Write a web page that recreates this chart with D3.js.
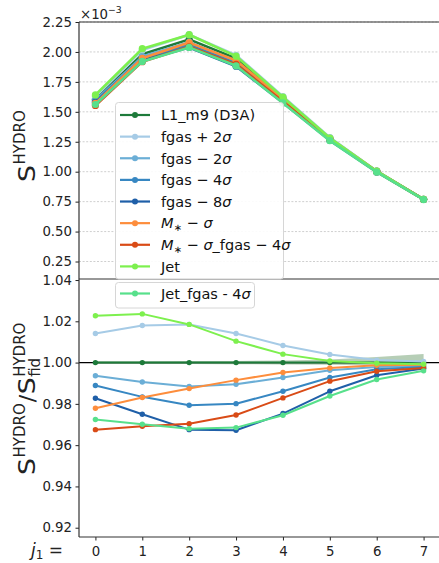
<!DOCTYPE html>
<html>
<head>
<meta charset="utf-8">
<script src="https://cdn.jsdelivr.net/npm/d3@7"></script>
<style>
  html, body { margin: 0; padding: 0; background: #fff; }
  svg { display: block; font-family: "DejaVu Sans", sans-serif; }
</style>
</head>
<body>
<svg id="chart" width="439" height="563"></svg>
<script>
// Scale index j1 on the x axis
const j1 = [0, 1, 2, 3, 4, 5, 6, 7];

// Scattering coefficients S^HYDRO (units of 1e-3)
const topFid       = [1.605, 1.980, 2.105, 1.945, 1.615, 1.280, 1.004, 0.770];
const topFgasP2    = [1.628, 2.016, 2.144, 1.972, 1.628, 1.285, 1.005, 0.770];
const topFgasM2    = [1.595, 1.961, 2.081, 1.925, 1.603, 1.275, 1.002, 0.769];
const topFgasM4    = [1.587, 1.947, 2.061, 1.906, 1.593, 1.271, 1.001, 0.768];
const topFgasM8    = [1.577, 1.931, 2.037, 1.881, 1.575, 1.262, 0.998, 0.768];
const topMstar     = [1.570, 1.947, 2.078, 1.928, 1.607, 1.277, 1.003, 0.769];
const topMstarFgas = [1.553, 1.919, 2.043, 1.896, 1.587, 1.268, 1.000, 0.768];
const topJet       = [1.641, 2.027, 2.144, 1.965, 1.622, 1.281, 1.004, 0.769];
const topJetFgas   = [1.561, 1.921, 2.038, 1.884, 1.574, 1.259, 0.996, 0.767];

// Ratio to the fiducial run
const ratioFid       = [1, 1, 1, 1, 1, 1, 1, 1];
const ratioFgasP2    = [1.0141, 1.0180, 1.0185, 1.0141, 1.0083, 1.0039, 1.0012, 1.0005];
const ratioFgasM2    = [0.9936, 0.9906, 0.9884, 0.9895, 0.9928, 0.9963, 0.9979, 0.9984];
const ratioFgasM4    = [0.9889, 0.9834, 0.9793, 0.9801, 0.9861, 0.9928, 0.9968, 0.9979];
const ratioFgasM8    = [0.9827, 0.9750, 0.9675, 0.9672, 0.9753, 0.9861, 0.9939, 0.9971];
const ratioMstar     = [0.9779, 0.9831, 0.9874, 0.9915, 0.9952, 0.9974, 0.9987, 0.9990];
const ratioMstarFgas = [0.9675, 0.9691, 0.9704, 0.9746, 0.9829, 0.9910, 0.9958, 0.9974];
const ratioJet       = [1.0227, 1.0236, 1.0185, 1.0104, 1.0041, 1.0008, 0.9997, 0.9992];
const ratioJetFgas   = [0.9724, 0.9701, 0.9680, 0.9685, 0.9745, 0.9838, 0.9918, 0.9960];

// Scatter band of the fiducial ratio
const bandUpper = [1.0007, 1.0007, 1.0008, 1.0008, 1.0010, 1.0015, 1.0027, 1.0042];
const bandLower = [0.9993, 0.9993, 0.9993, 0.9992, 0.9991, 0.9990, 0.9986, 0.9982];

// Tick values
const topTicks = [0.25, 0.50, 0.75, 1.00, 1.25, 1.50, 1.75, 2.00, 2.25];
const bottomTicks = [0.92, 0.94, 0.96, 0.98, 1.00, 1.02, 1.04];

// Legend labels as [text, style] runs: "i" italic, "sub" subscript
const labelFid       = [["L1_m9 (D3A)"]];
const labelFgasP2    = [["fgas + 2"], ["σ", "i"]];
const labelFgasM2    = [["fgas − 2"], ["σ", "i"]];
const labelFgasM4    = [["fgas − 4"], ["σ", "i"]];
const labelFgasM8    = [["fgas − 8"], ["σ", "i"]];
const labelMstar     = [["M", "i"], ["∗", "sub"], [" − "], ["σ", "i"]];
const labelMstarFgas = [["M", "i"], ["∗", "sub"], [" − "], ["σ", "i"], ["_fgas − 4"], ["σ", "i"]];
const labelJet       = [["Jet"]];
const labelJetFgas   = [["Jet_fgas - 4"], ["σ", "i"]];

const colors = ["#1d7a3a", "#a6cbe6", "#6baed6", "#3787c2", "#1f5fa8",
                "#fd8d3c", "#d94b16", "#7df04e", "#57e08b"];

const series = [
  { top: topFid,       ratio: ratioFid,       label: labelFid },
  { top: topFgasP2,    ratio: ratioFgasP2,    label: labelFgasP2 },
  { top: topFgasM2,    ratio: ratioFgasM2,    label: labelFgasM2 },
  { top: topFgasM4,    ratio: ratioFgasM4,    label: labelFgasM4 },
  { top: topFgasM8,    ratio: ratioFgasM8,    label: labelFgasM8 },
  { top: topMstar,     ratio: ratioMstar,     label: labelMstar },
  { top: topMstarFgas, ratio: ratioMstarFgas, label: labelMstarFgas },
  { top: topJet,       ratio: ratioJet,       label: labelJet },
  { top: topJetFgas,   ratio: ratioJetFgas,   label: labelJetFgas }
].map((s, i) => ({ ...s, color: colors[i] }));

const svg = d3.select("#chart");

const left = 79, right = 440;
const topY0 = 22, split = 279, bottomY1 = 537;

const x = d3.scaleLinear().domain([-0.35, 7.35]).range([left, right]);
const yTop = d3.scaleLinear().domain([0.104, 2.25]).range([split, topY0]);
const yBot = d3.scaleLinear().domain([0.9155, 1.0405]).range([bottomY1, split]);

const tickFont = 13.3;

// ---- top panel grid
const gTop = svg.append("g");
gTop.selectAll("line.grid").data(topTicks).join("line")
  .attr("x1", left).attr("x2", right)
  .attr("y1", d => yTop(d)).attr("y2", d => yTop(d))
  .attr("stroke", "#cfcfcf").attr("stroke-width", 1)
  .attr("stroke-dasharray", "2,1.6");

// ---- top panel lines
const lineTop = d3.line().x((d, i) => x(j1[i])).y(d => yTop(d));
series.forEach(s => {
  gTop.append("path").datum(s.top)
    .attr("d", lineTop).attr("fill", "none")
    .attr("stroke", s.color).attr("stroke-width", 2.6)
    .attr("stroke-linejoin", "round");
  gTop.selectAll(null).data(s.top).join("circle")
    .attr("cx", (d, i) => x(j1[i])).attr("cy", d => yTop(d))
    .attr("r", 3.6).attr("fill", s.color);
});

// ---- bottom panel
const gBot = svg.append("g");
const area = d3.area()
  .x((d, i) => x(j1[i]))
  .y0((d, i) => yBot(bandLower[i]))
  .y1(d => yBot(d));
gBot.append("path").datum(bandUpper)
  .attr("d", area).attr("fill", "#3f7f3f").attr("fill-opacity", 0.38);

gBot.append("line")
  .attr("x1", left).attr("x2", right)
  .attr("y1", yBot(1)).attr("y2", yBot(1))
  .attr("stroke", "#000").attr("stroke-width", 1.3);

const lineBot = d3.line().x((d, i) => x(j1[i])).y(d => yBot(d));
series.forEach(s => {
  gBot.append("path").datum(s.ratio)
    .attr("d", lineBot).attr("fill", "none")
    .attr("stroke", s.color).attr("stroke-width", 2)
    .attr("stroke-linejoin", "round");
  gBot.selectAll(null).data(s.ratio).join("circle")
    .attr("cx", (d, i) => x(j1[i])).attr("cy", d => yBot(d))
    .attr("r", 2.7).attr("fill", s.color);
});

// ---- axes
function styleAxis(g) {
  g.select(".domain").remove();
  g.selectAll(".tick line").attr("stroke", "#222").attr("stroke-width", 1);
  g.selectAll(".tick text").attr("fill", "#222")
    .attr("font-size", tickFont).attr("font-family", "DejaVu Sans");
}
svg.append("g").attr("transform", `translate(${left},0)`)
  .call(d3.axisLeft(yTop).tickValues(topTicks).tickFormat(d3.format(".2f"))
    .tickSizeOuter(0).tickSizeInner(3.5).tickPadding(3.5))
  .call(styleAxis);
svg.append("g").attr("transform", `translate(${left},0)`)
  .call(d3.axisLeft(yBot).tickValues(bottomTicks).tickFormat(d3.format(".2f"))
    .tickSizeOuter(0).tickSizeInner(3.5).tickPadding(3.5))
  .call(styleAxis);
svg.append("g").attr("transform", `translate(0,${bottomY1})`)
  .call(d3.axisBottom(x).tickValues(j1).tickFormat(d3.format("d"))
    .tickSizeOuter(0).tickSizeInner(3.5).tickPadding(6))
  .call(styleAxis);

// spines
const spine = (x1, y1, x2, y2) => svg.append("line")
  .attr("x1", x1).attr("y1", y1).attr("x2", x2).attr("y2", y2)
  .attr("stroke", "#333").attr("stroke-width", 1.2);
spine(left, topY0, right, topY0);
spine(left, topY0, left, bottomY1);
spine(left, split, right, split);
spine(left, bottomY1, right, bottomY1);

// offset label of the top panel
const off = svg.append("text").attr("x", 80).attr("y", 18.5)
  .attr("font-size", tickFont).attr("fill", "#222");
off.append("tspan").text("×10");
off.append("tspan").attr("font-size", 9.3).attr("dy", -6).text("−3");

// ---- legends
function writeRuns(textSel, runs, size) {
  let shift = 0;
  runs.forEach(([t, style]) => {
    const ts = textSel.append("tspan").text(t);
    if (style === "i") ts.attr("font-style", "italic");
    if (style === "sub") {
      ts.attr("font-size", size * 0.7).attr("dy", 3 - shift);
      shift = 3;
    } else if (shift !== 0) {
      ts.attr("dy", -shift);
      shift = 0;
    }
  });
}

const legFont = 14.5;
function legend(items, bx, by, bw, bh, y0, step) {
  const g = svg.append("g");
  g.append("rect").attr("x", bx).attr("y", by).attr("width", bw).attr("height", bh)
    .attr("rx", 3).attr("fill", "#fff").attr("fill-opacity", 0.9)
    .attr("stroke", "#d6d6d6").attr("stroke-width", 1);
  items.forEach((s, i) => {
    const cy = y0 + i * step;
    g.append("line").attr("x1", 120).attr("x2", 150).attr("y1", cy).attr("y2", cy)
      .attr("stroke", s.color).attr("stroke-width", 2.2);
    g.append("circle").attr("cx", 135).attr("cy", cy).attr("r", 3).attr("fill", s.color);
    const t = g.append("text").attr("x", 161).attr("y", cy + 5.3)
      .attr("font-size", legFont).attr("fill", "#111");
    writeRuns(t, s.label, legFont);
  });
}
legend(series.slice(0, 8), 115.5, 102.5, 168, 176.5, 115, 21.63);
legend(series.slice(8), 115.5, 282.5, 139, 25.5, 293.5, 0);

// ---- x label
const xl = svg.append("text").attr("x", 31).attr("y", 556)
  .attr("font-size", 17).attr("fill", "#222");
xl.append("tspan").attr("font-style", "italic").text("j");
xl.append("tspan").attr("font-size", 12).attr("dy", 3).text("1");
xl.append("tspan").attr("dy", -3).text(" =");

// ---- rotated y labels built from pieces laid out along the axis
function yLabel(baseX, startY, pieces) {
  const g = svg.append("g").attr("transform", `translate(${baseX},${startY}) rotate(-90)`);
  let pos = 0;
  pieces.forEach(p => {
    const parts = Array.isArray(p) ? p : [p];
    let adv = 0;
    parts.forEach(q => {
      const t = g.append("text").attr("x", pos).attr("y", q.dy || 0)
        .attr("font-size", q.size).attr("fill", "#222").text(q.t);
      if (q.len) t.attr("textLength", q.len).attr("lengthAdjust", "spacingAndGlyphs");
      adv = Math.max(adv, q.len || t.node().getComputedTextLength());
    });
    pos += adv + (parts[0].gap || 0);
  });
}
const S = { t: "S", size: 23, len: 17, gap: 0.5 };
const sup = { t: "HYDRO", size: 15, dy: -10.5 };
yLabel(35, 182, [S, sup]);
yLabel(35, 475, [S, { ...sup, gap: 1 }, { t: "/", size: 22, gap: 0.5 }, S,
  [sup, { t: "fid", size: 15, dy: 4.5 }]]);
</script>
</body>
</html>
